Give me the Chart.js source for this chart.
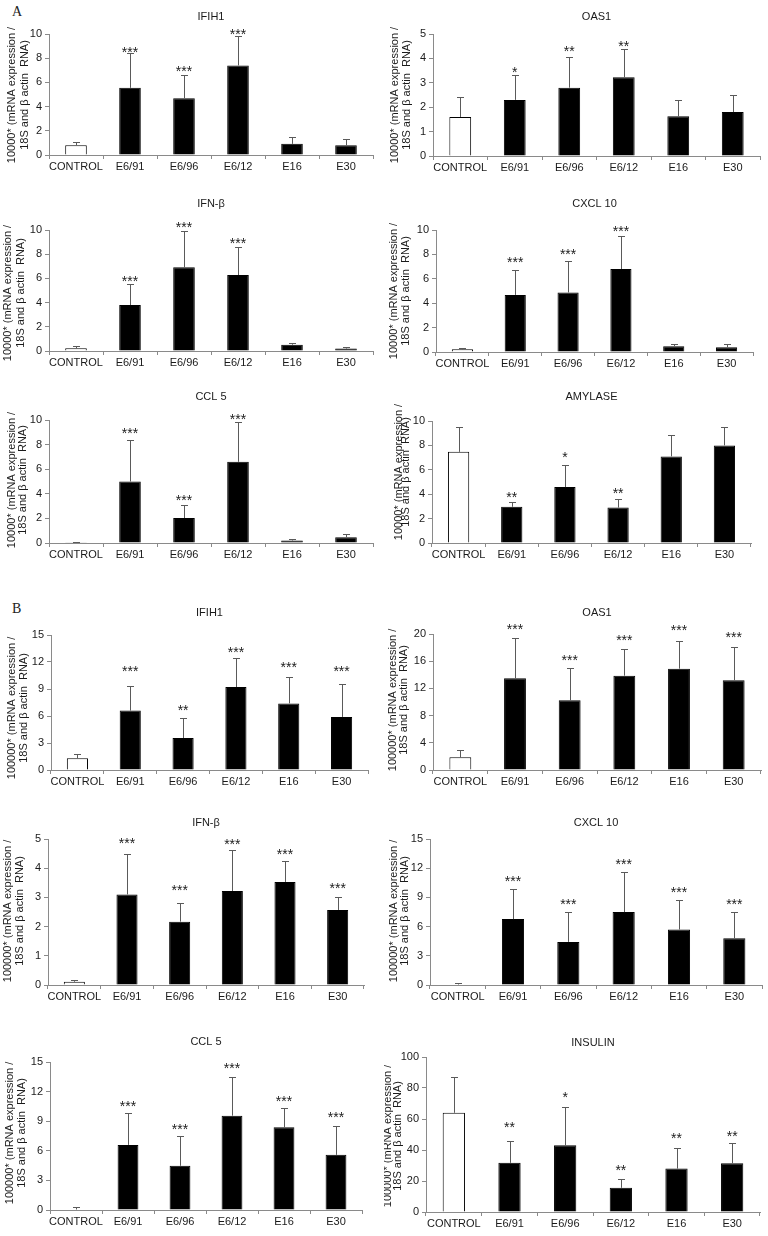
<!DOCTYPE html>
<html>
<head>
<meta charset="utf-8">
<script src="https://cdn.jsdelivr.net/npm/chart.js@4.4.1/dist/chart.umd.min.js"></script>
<style>
  body { margin:0; background:#fff; width:768px; height:1236px; position:relative; overflow:hidden; }
  canvas { position:absolute; }
  .part { position:absolute; font-family:"Liberation Serif","Times New Roman",serif; font-size:14px; line-height:14px; color:#222; }
</style>
</head>
<body>
<div class="part" style="left:12px;top:5px">A</div>
<div class="part" style="left:12px;top:602px">B</div>
<script>
// mRNA expression bars, panel A (10000*) and panel B (100000*)
const groups = ['CONTROL', 'E6/91', 'E6/96', 'E6/12', 'E16', 'E30'];

// ---------- A ----------
const aIfih1 = [0.8, 5.55, 4.7, 7.4, 0.92, 0.8];
const aIfih1Sd = [0.3, 2.85, 1.95, 2.4, 0.57, 0.52];
const aIfih1Stars = ['', '***', '***', '***', '', ''];
const aIfih1StarAt = [null, 8.76, 7.19, 10.28, null, null];

const aOas1 = [1.6, 2.3, 2.8, 3.23, 1.63, 1.8];
const aOas1Sd = [0.8, 1.0, 1.25, 1.15, 0.68, 0.72];
const aOas1Stars = ['', '*', '**', '**', '', ''];
const aOas1StarAt = [null, 3.57, 4.42, 4.63, null, null];

const aIfnb = [0.22, 3.8, 6.92, 6.28, 0.52, 0.2];
const aIfnbSd = [0.2, 1.72, 3.0, 2.28, 0.13, 0.12];
const aIfnbStars = ['', '***', '***', '***', '', ''];
const aIfnbStarAt = [null, 6.02, 10.47, 9.18, null, null];

const aCxcl10 = [0.22, 4.68, 4.88, 6.8, 0.48, 0.38];
const aCxcl10Sd = [0.14, 2.03, 2.57, 2.68, 0.17, 0.3];
const aCxcl10Stars = ['', '***', '***', '***', '', ''];
const aCxcl10StarAt = [null, 7.64, 8.25, 10.19, null, null];

const aCcl5 = [0.03, 5.0, 2.03, 6.6, 0.2, 0.47];
const aCcl5Sd = [0.05, 3.36, 1.09, 3.23, 0.1, 0.29];
const aCcl5Stars = ['', '***', '***', '***', '', ''];
const aCcl5StarAt = [null, 9.21, 3.74, 10.35, null, null];

const aAmylase = [7.47, 2.97, 4.58, 2.9, 7.1, 8.0];
const aAmylaseSd = [2.0, 0.38, 1.85, 0.7, 1.75, 1.53];
const aAmylaseStars = ['', '**', '*', '**', '', ''];
const aAmylaseStarAt = [null, 3.98, 7.28, 4.36, null, null];

// ---------- B ----------
const bIfih1 = [1.3, 6.6, 3.56, 9.22, 7.4, 5.9];
const bIfih1Sd = [0.44, 2.78, 2.25, 3.19, 2.92, 3.63];
const bIfih1Stars = ['', '***', '**', '***', '***', '***'];
const bIfih1StarAt = [null, 11.3, 6.96, 13.44, 11.74, 11.3];

const bOas1 = [1.86, 13.48, 10.25, 13.87, 14.9, 13.2];
const bOas1Sd = [1.08, 5.98, 4.7, 3.88, 4.02, 4.9];
const bOas1Stars = ['', '***', '***', '***', '***', '***'];
const bOas1StarAt = [null, 21.2, 16.6, 19.56, 20.98, 20.05];

const bIfnb = [0.11, 3.1, 2.17, 3.22, 3.53, 2.57];
const bIfnbSd = [0.06, 1.37, 0.64, 1.39, 0.7, 0.46];
const bIfnbStars = ['', '***', '***', '***', '***', '***'];
const bIfnbStarAt = [null, 4.97, 3.34, 4.94, 4.6, 3.44];

const bCxcl10 = [0.05, 6.77, 4.43, 7.49, 5.7, 4.81];
const bCxcl10Sd = [0.2, 3.06, 3.06, 4.16, 3.06, 2.72];
const bCxcl10Stars = ['', '***', '***', '***', '***', '***'];
const bCxcl10StarAt = [null, 10.96, 8.66, 12.78, 9.9, 8.63];

const bCcl5 = [0.05, 6.6, 4.48, 9.56, 8.38, 5.59];
const bCcl5Sd = [0.3, 3.23, 3.03, 3.91, 1.92, 2.89];
const bCcl5Stars = ['', '***', '***', '***', '***', '***'];
const bCcl5StarAt = [null, 10.88, 8.48, 14.71, 11.35, 9.76];

const bInsulin = [64, 31.7, 43, 15.6, 28, 31.5];
const bInsulinSd = [23.2, 13.9, 24.9, 5.4, 13.3, 12.8];
const bInsulinStars = ['', '**', '*', '**', '**', '**'];
const bInsulinStarAt = [null, 56.7, 76.4, 29.3, 49.7, 51.2];

// ---------- panel placement (page px) ----------
const panels = [
  { title:'IFIH1', unit:'10000*', mean:aIfih1, sd:aIfih1Sd, stars:aIfih1Stars, starAt:aIfih1StarAt, max:10, step:2,
    l:49, r:373, t:34, b:155, titleY:17, lx1:12, lx2:25, lcy:95 },
  { title:'OAS1', unit:'10000*', mean:aOas1, sd:aOas1Sd, stars:aOas1Stars, starAt:aOas1StarAt, max:5, step:1,
    l:433, r:760, t:34, b:156, titleY:17, lx1:395, lx2:407, lcy:95 },
  { title:'IFN-β', unit:'10000*', mean:aIfnb, sd:aIfnbSd, stars:aIfnbStars, starAt:aIfnbStarAt, max:10, step:2,
    l:49, r:373, t:230, b:351, titleY:204, lx1:8, lx2:21, lcy:293 },
  { title:'CXCL 10', unit:'10000*', mean:aCxcl10, sd:aCxcl10Sd, stars:aCxcl10Stars, starAt:aCxcl10StarAt, max:10, step:2,
    l:436, r:753, t:230, b:352, titleY:204, lx1:394, lx2:406, lcy:291 },
  { title:'CCL 5', unit:'10000*', mean:aCcl5, sd:aCcl5Sd, stars:aCcl5Stars, starAt:aCcl5StarAt, max:10, step:2,
    l:49, r:373, t:420, b:543, titleY:397, lx1:12, lx2:23, lcy:480 },
  { title:'AMYLASE', unit:'10000*', mean:aAmylase, sd:aAmylaseSd, stars:aAmylaseStars, starAt:aAmylaseStarAt, max:10, step:2,
    l:432, r:751, t:421, b:543, titleY:397, lx1:399, lx2:406, lcy:472 },
  { title:'IFIH1', unit:'100000*', mean:bIfih1, sd:bIfih1Sd, stars:bIfih1Stars, starAt:bIfih1StarAt, max:15, step:3,
    l:51, r:368, t:635, b:770, titleY:613, lx1:12, lx2:24, lcy:708 },
  { title:'OAS1', unit:'100000*', mean:bOas1, sd:bOas1Sd, stars:bOas1Stars, starAt:bOas1StarAt, max:20, step:4,
    l:433, r:761, t:634, b:770, titleY:613, lx1:393, lx2:404, lcy:700 },
  { title:'IFN-β', unit:'100000*', mean:bIfnb, sd:bIfnbSd, stars:bIfnbStars, starAt:bIfnbStarAt, max:5, step:1,
    l:48, r:364, t:839, b:985, titleY:823, lx1:8, lx2:20, lcy:911 },
  { title:'CXCL 10', unit:'100000*', mean:bCxcl10, sd:bCxcl10Sd, stars:bCxcl10Stars, starAt:bCxcl10StarAt, max:15, step:3,
    l:430, r:762, t:839, b:985, titleY:823, lx1:394, lx2:405, lcy:911 },
  { title:'CCL 5', unit:'100000*', mean:bCcl5, sd:bCcl5Sd, stars:bCcl5Stars, starAt:bCcl5StarAt, max:15, step:3,
    l:50, r:362, t:1062, b:1210, titleY:1042, lx1:10, lx2:22, lcy:1133 },
  { title:'INSULIN', unit:'100000*', mean:bInsulin, sd:bInsulinSd, stars:bInsulinStars, starAt:bInsulinStarAt, max:100, step:20,
    l:426, r:760, t:1057, b:1212, titleY:1043, lx1:388, lx2:398, lcy:1136 },
];

const FONT = '"Liberation Sans", Arial, sans-serif';
const AXIS = '#8a8a8a';
const INK = '#1a1a1a';
const YW = 28;   // fixed y-axis box width
const XH = 20;   // fixed x-axis box height

// draws title, y label, error bars and significance stars
function decor(p, colLeft, top){
  return {
    id: 'decor',
    afterDatasetsDraw(chart){
      const ctx = chart.ctx;
      const y = chart.scales.y;
      const bars = chart.getDatasetMeta(0).data;
      ctx.save();
      // error bars (upper only)
      ctx.strokeStyle = '#5a5a5a';
      ctx.lineWidth = 1;
      bars.forEach((bar, i) => {
        const x = Math.round(bar.x) + 0.5;
        const y0 = y.getPixelForValue(p.mean[i]);
        const y1 = Math.round(y.getPixelForValue(p.mean[i] + p.sd[i])) + 0.5;
        ctx.beginPath();
        ctx.moveTo(x, y0);
        ctx.lineTo(x, y1);
        ctx.moveTo(x - 3.5, y1);
        ctx.lineTo(x + 3.5, y1);
        ctx.stroke();
      });
      // stars
      ctx.fillStyle = INK;
      ctx.font = '14px ' + FONT;
      ctx.textAlign = 'center';
      ctx.textBaseline = 'alphabetic';
      bars.forEach((bar, i) => {
        if (!p.stars[i]) return;
        ctx.fillText(p.stars[i], bar.x, y.getPixelForValue(p.starAt[i]) + 8);
      });
      // title
      ctx.font = '11px ' + FONT;
      ctx.textBaseline = 'middle';
      const ca = chart.chartArea;
      ctx.fillText(p.title, (ca.left + ca.right) / 2, p.titleY - top);
      // y axis label, two rotated lines
      const cy = p.lcy - top;
      [[p.unit + ' (mRNA expression /', p.lx1], ['18S and β actin  RNA)', p.lx2]].forEach(([txt, lx]) => {
        ctx.save();
        ctx.translate(lx - colLeft, cy);
        ctx.rotate(-Math.PI / 2);
        ctx.fillText(txt, 0, 0);
        ctx.restore();
      });
      ctx.restore();
    }
  };
}

panels.forEach(p => {
  const colLeft = p.l < 384 ? 0 : 384;
  const top = p.titleY - 10;
  const height = p.b + 22 - top;
  const cv = document.createElement('canvas');
  cv.width = 384; cv.height = height;
  cv.style.left = colLeft + 'px';
  cv.style.top = top + 'px';
  cv.style.width = '384px';
  cv.style.height = height + 'px';
  document.body.appendChild(cv);

  new Chart(cv.getContext('2d'), {
    type: 'bar',
    data: {
      labels: groups,
      datasets: [{
        data: p.mean,
        backgroundColor: groups.map((g, i) => i === 0 ? '#ffffff' : '#000000'),
        borderColor: '#000000',
        borderWidth: 1,
        barPercentage: 0.4,
        categoryPercentage: 1
      }]
    },
    options: {
      responsive: false,
      animation: false,
      devicePixelRatio: 1,
      layout: { padding: { left: p.l - colLeft - YW, right: colLeft + 384 - p.r, top: p.t - top, bottom: height - (p.b - top) - XH } },
      plugins: { legend: { display: false }, tooltip: { enabled: false } },
      scales: {
        x: {
          offset: true,
          grid: { offset: true, drawOnChartArea: false, drawTicks: true, tickLength: 4, color: AXIS },
          border: { color: AXIS },
          ticks: { color: INK, font: { family: FONT, size: 11 }, padding: 1, maxRotation: 0, autoSkip: false },
          afterFit: s => { s.height = XH; }
        },
        y: {
          min: 0, max: p.max,
          grid: { drawOnChartArea: false, drawTicks: true, tickLength: 4, color: AXIS },
          border: { color: AXIS },
          ticks: { stepSize: p.step, color: INK, font: { family: FONT, size: 11 }, padding: 3 },
          afterFit: s => { s.width = YW; }
        }
      }
    },
    plugins: [decor(p, colLeft, top)]
  });
});
</script>
</body>
</html>
